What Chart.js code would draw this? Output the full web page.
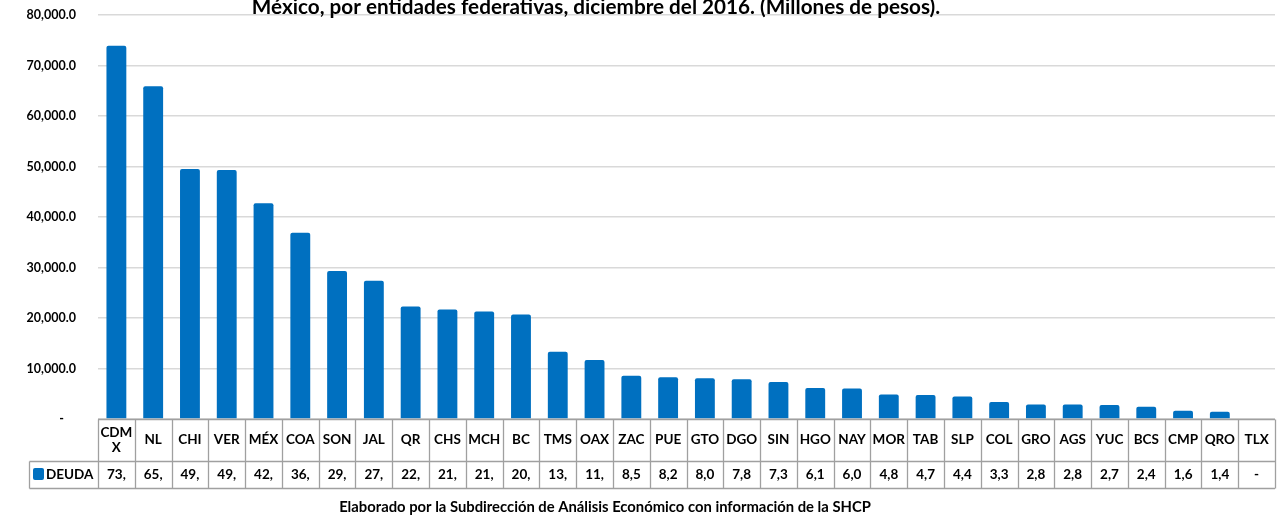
<!DOCTYPE html>
<html>
<head>
<meta charset="utf-8">
<script src="https://cdn.jsdelivr.net/npm/chart.js@4"></script>
<style>
    html, body { margin: 0; padding: 0; background: #fff; }
    #wrap { width: 1278px; height: 519px; position: relative; }
</style>
</head>
<body>
<div id="wrap"><canvas id="chartOne"></canvas></div>
<script>
// datos (millones de pesos)
const categories = [['CDM', 'X'], 'NL', 'CHI', 'VER', 'MÉX', 'COA', 'SON', 'JAL', 'QR', 'CHS', 'MCH', 'BC', 'TMS', 'OAX', 'ZAC', 'PUE',
    'GTO', 'DGO', 'SIN', 'HGO', 'NAY', 'MOR', 'TAB', 'SLP', 'COL', 'GRO', 'AGS', 'YUC', 'BCS', 'CMP', 'QRO', 'TLX'];
const deuda = [73900, 65900, 49500, 49300, 42700, 36900, 29300, 27400, 22300, 21700, 21300, 20700, 13300, 11700, 8550, 8250,
    8050, 7850, 7350, 6150, 6050, 4850, 4750, 4450, 3350, 2850, 2850, 2750, 2450, 1650, 1450, 0];
const yMin = 0, yMax = 80000, yStep = 10000;
const seriesName = 'DEUDA';
const titleText = 'México, por entidades federativas, diciembre del 2016. (Millones de pesos).';
const sourceText = 'Elaborado por la Subdirección de Análisis Económico con información de la SHCP';

const FONT = 'Lato, "Open Sans", sans-serif';
const BLUE = '#0070C0';

const fmt = (v) => v.toLocaleString('en-US', { minimumFractionDigits: 1, maximumFractionDigits: 1 });

// la celda de la tabla solo deja ver 3 caracteres
const cellText = (v) => v === 0 ? '-' : fmt(v).slice(0, 3);

const tablePlugin = {
    id: 'tablePlugin',
    afterDraw(chart) {
        const ctx = chart.ctx;
        const xs = chart.scales.x;
        const n = categories.length;
        const left = xs.left, right = xs.right;
        const colW = (right - left) / n;
        const top = 419.5, mid = 461.5, bot = 488.5, legLeft = 29.5;

        ctx.save();
        // titulo
        ctx.fillStyle = '#000';
        ctx.font = 'bold 20.7px ' + FONT;
        ctx.textAlign = 'center';
        ctx.textBaseline = 'alphabetic';
        ctx.fillText(titleText, 596, 14);

        // lineas de la tabla
        ctx.strokeStyle = '#a0a0a0';
        ctx.lineWidth = 1.3;
        ctx.beginPath();
        ctx.moveTo(left, top); ctx.lineTo(right, top);
        ctx.moveTo(legLeft, mid); ctx.lineTo(right, mid);
        ctx.moveTo(legLeft, bot); ctx.lineTo(right, bot);
        ctx.moveTo(legLeft, mid); ctx.lineTo(legLeft, bot);
        for (let i = 0; i <= n; i++) {
            const lx = Math.round(left + i * colW) + 0.5;
            ctx.moveTo(lx, top); ctx.lineTo(lx, bot);
        }
        ctx.stroke();

        // encabezados y valores
        ctx.font = 'bold 13.5px ' + FONT;
        ctx.textBaseline = 'middle';
        categories.forEach((c, i) => {
            const cx = left + (i + 0.5) * colW;
            if (Array.isArray(c)) {
                c.forEach((t, k) => ctx.fillText(t, cx, 440 + (k - (c.length - 1) / 2) * 15));
            } else {
                ctx.fillText(c, cx, 440);
            }
            ctx.fillText(cellText(deuda[i]), cx, 475);
        });

        // leyenda
        ctx.fillStyle = BLUE;
        ctx.beginPath();
        ctx.roundRect(33, 468, 11, 12, 2);
        ctx.fill();
        ctx.fillStyle = '#000';
        ctx.textAlign = 'left';
        ctx.fillText(seriesName, 46, 475);

        // fuente
        ctx.font = 'bold 14.8px ' + FONT;
        ctx.textAlign = 'center';
        ctx.textBaseline = 'alphabetic';
        ctx.fillText(sourceText, 605, 512);
        ctx.restore();
    }
};

var chartOne = document.getElementById('chartOne');
var myChart = new Chart(chartOne, {
    type: 'bar',
    data: {
        labels: categories,
        datasets: [{
            label: seriesName,
            data: deuda,
            backgroundColor: BLUE,
            borderRadius: 2,
            barPercentage: 0.54,
            categoryPercentage: 1
        }]
    },
    options: {
        responsive: true,
        maintainAspectRatio: false,
        animation: false,
        layout: { padding: { left: 0, right: 3, top: 15, bottom: 100 } },
        plugins: { legend: { display: false }, tooltip: { enabled: false } },
        scales: {
            x: { display: false },
            y: {
                min: yMin,
                max: yMax,
                afterFit: (scale) => {
                    scale.width = 98;
                    scale.paddingTop = 0;
                    scale.paddingBottom = 0;
                },
                ticks: {
                    stepSize: yStep,
                    color: '#000',
                    padding: 22,
                    font: { family: FONT, size: 12.5, weight: 'bold' },
                    callback: (v) => v === 0 ? '-    ' : fmt(v)
                },
                grid: { color: '#d9d9d9', lineWidth: 1.5, drawTicks: false },
                border: { display: false }
            }
        }
    },
    plugins: [tablePlugin]
});
</script>
</body>
</html>
